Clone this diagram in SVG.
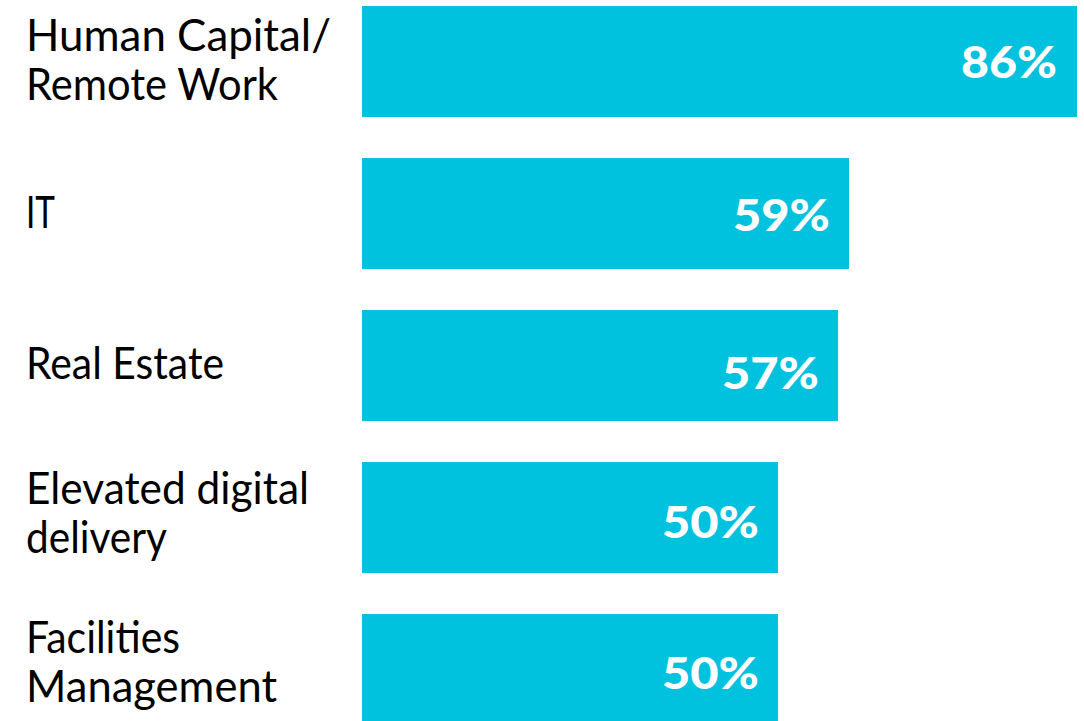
<svg xmlns="http://www.w3.org/2000/svg" width="1084" height="721" viewBox="0 0 1084 721">
<style>
.bar{fill:#00C1DE}
.lbl{font-family:Lato,"Liberation Sans",sans-serif;font-size:44px;fill:#000}
.val{font-family:Lato,"Liberation Sans",sans-serif;font-size:43px;font-weight:900;fill:#fff;text-anchor:end}
</style>
<rect width="1084" height="721" fill="#fff"/>
<g id="bar-human-capital">
<rect class="bar" x="362" y="6" width="715" height="111"/>
<text class="lbl" x="26" y="51" textLength="305" lengthAdjust="spacingAndGlyphs">Human Capital/</text>
<text class="lbl" x="26" y="100" textLength="252" lengthAdjust="spacingAndGlyphs">Remote Work</text>
<text class="val" x="1057" y="78" textLength="96" lengthAdjust="spacingAndGlyphs">86%</text>
</g>
<g id="bar-it">
<rect class="bar" x="362" y="158" width="487" height="111"/>
<text class="lbl" x="26" y="228" textLength="29" lengthAdjust="spacingAndGlyphs">IT</text>
<text class="val" x="830" y="231" textLength="97" lengthAdjust="spacingAndGlyphs">59%</text>
</g>
<g id="bar-real-estate">
<rect class="bar" x="362" y="310" width="476" height="111"/>
<text class="lbl" x="26" y="379" textLength="198" lengthAdjust="spacingAndGlyphs">Real Estate</text>
<text class="val" x="819" y="389" textLength="97" lengthAdjust="spacingAndGlyphs">57%</text>
</g>
<g id="bar-digital">
<rect class="bar" x="362" y="462" width="416" height="111"/>
<text class="lbl" x="26" y="504" textLength="283" lengthAdjust="spacingAndGlyphs">Elevated digital</text>
<text class="lbl" x="26" y="553" textLength="141" lengthAdjust="spacingAndGlyphs">delivery</text>
<text class="val" x="759" y="538" textLength="97" lengthAdjust="spacingAndGlyphs">50%</text>
</g>
<g id="bar-facilities">
<rect class="bar" x="362" y="614" width="416" height="111"/>
<text class="lbl" x="26" y="653" textLength="154" lengthAdjust="spacingAndGlyphs">Facilities</text>
<text class="lbl" x="26" y="702" textLength="251" lengthAdjust="spacingAndGlyphs">Management</text>
<text class="val" x="759" y="689" textLength="97" lengthAdjust="spacingAndGlyphs">50%</text>
</g>
<g id="connectors"/>
</svg>
